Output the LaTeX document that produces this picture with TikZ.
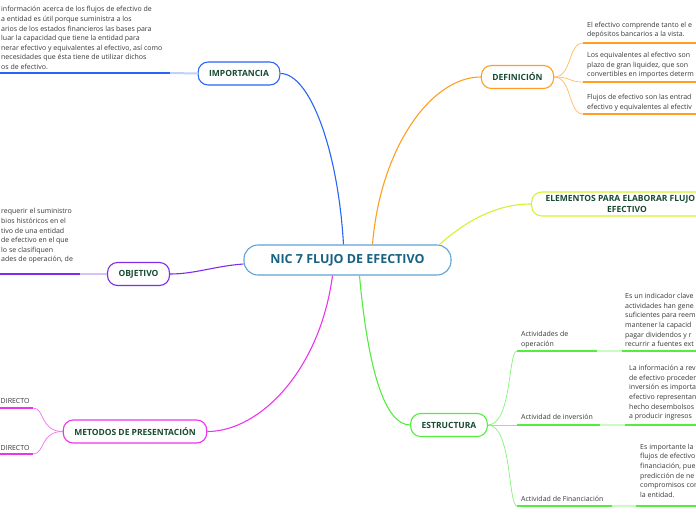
\documentclass[tikz,border=0pt]{standalone}
\usepackage{fontspec}
\setmainfont{Open Sans}
\usepackage{tikz}
\usetikzlibrary{shapes}
\definecolor{mmroot}{RGB}{95,162,215}
\definecolor{mmroottext}{RGB}{22,98,128}
\definecolor{mmlabel}{RGB}{24,74,52}
\definecolor{mmtext}{RGB}{55,55,55}
\definecolor{mmblue}{RGB}{40,100,245}
\definecolor{mmorange}{RGB}{255,158,32}
\definecolor{mmlime}{RGB}{212,242,52}
\definecolor{mmpurple}{RGB}{128,44,235}
\definecolor{mmmagenta}{RGB}{236,52,236}
\definecolor{mmgreen}{RGB}{84,236,64}
\tikzstyle{mmroot}=[rectangle, rounded corners=14pt, draw=mmroot, line width=1.1pt, fill=white, minimum width=207pt, minimum height=30pt, text=mmroottext, font=\fontsize{12.5}{14}\selectfont\bfseries]
\tikzstyle{mmtopic}=[rectangle, rounded corners=10pt, line width=1.1pt, fill=white, minimum height=23pt, inner xsep=11pt, align=center, text=mmlabel, font=\fontsize{8.5}{11}\selectfont\bfseries]
\tikzstyle{mmnote}=[inner sep=0pt, anchor=north west, align=left, text=mmtext, font=\fontsize{7}{9.6}\selectfont]
\tikzstyle{mmline}=[line width=1.1pt]
\tikzstyle{mmunder}=[line width=2pt]
\tikzstyle{mmtwig}=[line width=0.7pt]
\newcommand{\mmtopic}[4]{
	\node[mmtopic, draw=#1] (#2) at (#3) {#4};}
\newcommand{\mmnote}[3]{
	\node[mmnote] (#1) at (#2) {\strut#3};}

\begin{document}
\begin{tikzpicture}[x=1pt, y=-1pt]
\useasboundingbox (0,0) rectangle (696,520);
\clip (0,0) rectangle (696,520);

\node[mmroot] (root) at (347.5,260) {NIC 7 FLUJO DE EFECTIVO};

\mmtopic{mmblue}{imp}{239,73.5}{IMPORTANCIA}
\mmnote{imptxt}{1,5}{información acerca de los flujos de efectivo de\\a entidad es útil porque suministra a los\\arios de los estados financieros las bases para\\luar la capacidad que tiene la entidad para\\nerar efectivo y equivalentes al efectivo, así como\\necesidades que ésta tiene de utilizar dichos\\os de efectivo.}
\coordinate (impL) at (0,73);
\coordinate (impR) at (170,73);

\mmtopic{mmorange}{def}{517.5,77}{DEFINICIÓN}
\mmnote{d1txt}{587,20.3}{El efectivo comprende tanto el e\\depósitos bancarios a la vista.}
\mmnote{d2txt}{587,50.8}{Los equivalentes al efectivo son\\plazo de gran liquidez, que son\\convertibles en importes determ}
\mmnote{d3txt}{587,92.8}{Flujos de efectivo son las entrad\\efectivo y equivalentes al efectiv}
\coordinate (d1L) at (583,43);
\coordinate (d1R) at (700,43);
\coordinate (d2L) at (583,82);
\coordinate (d2R) at (700,82);
\coordinate (d3L) at (583,114);
\coordinate (d3R) at (700,114);

\node[mmtopic, draw=mmlime, inner xsep=14pt] (ele) at (627,204) {ELEMENTOS PARA ELABORAR FLUJO\phantom{ DE}\\EFECTIVO};

\mmtopic{mmpurple}{obj}{138.5,274}{OBJETIVO}
\mmnote{objtxt}{1,207}{requerir el suministro\\bios históricos en el\\tivo de una entidad\\de efectivo en el que\\lo se clasifiquen\\ades de operación, de}
\coordinate (objL) at (0,274);
\coordinate (objR) at (80,274);

\mmtopic{mmmagenta}{met}{135,431.5}{METODOS DE PRESENTACIÓN}
\node[mmnote, anchor=base west] (m1txt) at (0.5,403) {DIRECTO};
\node[mmnote, anchor=base west] (m2txt) at (0.5,450) {DIRECTO};
\coordinate (m1L) at (-2,408);
\coordinate (m1R) at (33,408);
\coordinate (m2L) at (-2,454);
\coordinate (m2R) at (33,454);

\mmtopic{mmgreen}{est}{449,425}{ESTRUCTURA}
\mmnote{e1lab}{521,329.8}{Actividades de\\operación}
\mmnote{e1txt}{625,291.8}{Es un indicador clave\\actividades han gene\\suficientes para reem\\mantener la  capacid\\pagar dividendos y r\\recurrir a fuentes ext}
\mmnote{e2lab}{521,412.8}{Actividad de inversión}
\mmnote{e2txt}{629,363.8}{La información a rev\\de efectivo proceden\\inversión es importa\\efectivo representan\\hecho desembolsos\\a producir ingresos}
\mmnote{e3lab}{521,494.3}{Actividad de Financiación}
\mmnote{e3txt}{640,442.3}{Es importante la\\flujos de efectivo\\financiación, pue\\predicción de ne\\compromisos con\\la entidad.}
\coordinate (e1L) at (517,351);
\coordinate (e1M) at (597,351);
\coordinate (e1N) at (622,351);
\coordinate (e1R) at (700,351);
\coordinate (e2L) at (517,425);
\coordinate (e2M) at (600,425);
\coordinate (e2N) at (625,425);
\coordinate (e2R) at (700,425);
\coordinate (e3L) at (517,506);
\coordinate (e3M) at (612,506);
\coordinate (e3N) at (636,506);
\coordinate (e3R) at (700,506);

\draw[mmline, mmblue] ([xshift=-4pt]root.north) .. controls (338,150) and (310,73.5) .. (imp.east);
\draw[mmline, mmorange] ([xshift=25pt]root.north) .. controls (380,150) and (430,77) .. (def.west);
\draw[mmline, mmlime] ([xshift=-12pt]root.north east) .. controls (465,222) and (495,204) .. (ele.west);
\draw[mmline, mmpurple] ([yshift=-4pt]root.west) .. controls (215,266) and (195,274) .. (obj.east);
\draw[mmline, mmmagenta] ([xshift=-15pt]root.south) .. controls (320,370) and (260,431.5) .. (met.east);
\draw[mmline, mmgreen] ([xshift=12pt]root.south) .. controls (368,370) and (385,425) .. (est.west);

\draw[mmunder, mmblue] (impL) -- (impR);
\draw[mmunder, mmblue!30] (impR) -- (imp.west);
\draw[mmunder, mmpurple] (objL) -- (objR);
\draw[mmunder, mmpurple!30] (objR) -- (obj.west);

\draw[mmtwig, mmorange!70] (def.east) .. controls (572,77) and (568,43) .. (d1L);
\draw[mmtwig, mmorange!70] (def.east) .. controls (572,77) and (568,82) .. (d2L);
\draw[mmtwig, mmorange!70] (def.east) .. controls (572,77) and (568,114) .. (d3L);
\draw[mmunder, mmorange] (d1L) -- (d1R);
\draw[mmunder, mmorange] (d2L) -- (d2R);
\draw[mmunder, mmorange] (d3L) -- (d3R);

\draw[mmtwig, mmmagenta!70] (met.west) .. controls (40,431.5) and (45,408) .. (m1R);
\draw[mmtwig, mmmagenta!70] (met.west) .. controls (40,431.5) and (45,454) .. (m2R);
\draw[mmunder, mmmagenta] (m1L) -- (m1R);
\draw[mmunder, mmmagenta] (m2L) -- (m2R);

\draw[mmtwig, mmgreen!70] (est.east) .. controls (512,425) and (508,351) .. (e1L);
\draw[mmtwig, mmgreen!70] (est.east) -- (e2L);
\draw[mmtwig, mmgreen!70] (est.east) .. controls (512,425) and (508,506) .. (e3L);
\draw[mmunder, mmgreen] (e1L) -- (e1M);
\draw[mmunder, mmgreen!30] (e1M) -- (e1N);
\draw[mmunder, mmgreen] (e1N) -- (e1R);
\draw[mmunder, mmgreen] (e2L) -- (e2M);
\draw[mmunder, mmgreen!30] (e2M) -- (e2N);
\draw[mmunder, mmgreen] (e2N) -- (e2R);
\draw[mmunder, mmgreen] (e3L) -- (e3M);
\draw[mmunder, mmgreen!30] (e3M) -- (e3N);
\draw[mmunder, mmgreen] (e3N) -- (e3R);
\end{tikzpicture}
\end{document}
